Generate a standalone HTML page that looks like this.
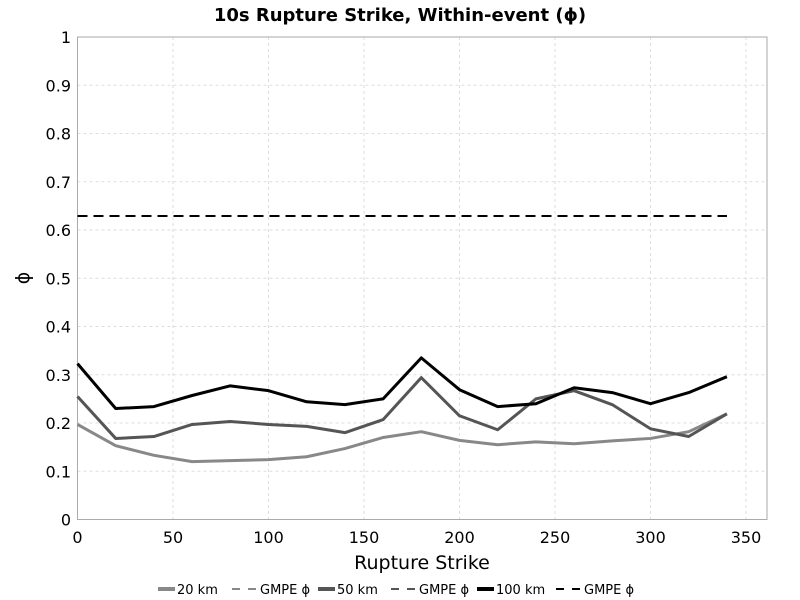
<!DOCTYPE html>
<html><head><meta charset="utf-8"><style>
body{margin:0;background:#fff;}
svg{display:block;font-family:"DejaVu Sans","Liberation Sans",sans-serif;}
</style></head><body>
<svg id="chart" width="800" height="600">
<text x="400" y="21" text-anchor="middle" font-size="18" font-weight="bold">10s Rupture Strike, Within-event (ϕ)</text>
<g id="grid"></g>
<rect x="77.5" y="37" width="689.5" height="482.5" fill="none" stroke="#aaa"/>
<g id="ticks"></g>
<g id="series"></g>
<text x="422" y="569" text-anchor="middle" font-size="19">Rupture Strike</text>
<text x="29" y="278" text-anchor="middle" font-size="19" transform="rotate(-90 29 278)">ϕ</text>
<g id="legend" font-size="13"></g>
</svg>
<script>
const xVals=[0,20,40,60,80,100,120,140,160,180,200,220,240,260,280,300,320,340];
const s20=[0.197,0.153,0.133,0.12,0.122,0.124,0.13,0.147,0.17,0.182,0.164,0.155,0.161,0.157,0.163,0.168,0.182,0.219];
const s50=[0.255,0.168,0.172,0.197,0.203,0.197,0.193,0.18,0.207,0.294,0.215,0.186,0.25,0.267,0.238,0.188,0.172,0.219];
const s100=[0.323,0.23,0.234,0.257,0.277,0.267,0.244,0.238,0.25,0.335,0.269,0.234,0.24,0.273,0.263,0.24,0.263,0.296];
const gmpe=[0.629,0.629,0.629];
const xTicks=[0,50,100,150,200,250,300,350];
const yTicks=[0,0.1,0.2,0.3,0.4,0.5,0.6,0.7,0.8,0.9,1];
const yTickLabels=["0","0.1","0.2","0.3","0.4","0.5","0.6","0.7","0.8","0.9","1"];
const NS="http://www.w3.org/2000/svg";
const X=v=>77.5+v*1.91, Y=v=>519.5-v*482.5;
function mk(t,a,p){const e=document.createElementNS(NS,t);for(const k in a)e.setAttribute(k,a[k]);p.appendChild(e);return e;}
const grid=document.getElementById('grid'),ticks=document.getElementById('ticks'),ser=document.getElementById('series'),leg=document.getElementById('legend');
xTicks.forEach(v=>{
 const l=mk('line',{x1:X(v),x2:X(v),y1:37,y2:519.5,stroke:'#ddd','stroke-dasharray':'3,3'},grid);
 
 
 const t=mk('text',{x:X(v),y:543,'text-anchor':'middle','font-size':16},ticks);t.textContent=v;
 
 
});
yTicks.forEach((v,i)=>{
 const l=mk('line',{x1:77.5,x2:767,y1:Y(v),y2:Y(v),stroke:'#ddd','stroke-dasharray':'3,3'},grid);
 
 
 const t=mk('text',{x:71,y:Y(v)+6,'text-anchor':'end','font-size':16},ticks);t.textContent=yTickLabels[i];
 
 
});
function line(vals,color,name){
 const p=mk('polyline',{points:vals.map((v,i)=>X(xVals[i])+','+Y(v)).join(' '),fill:'none',stroke:color,'stroke-width':3,'stroke-linejoin':'round'},ser);
 
 
}
function gline(color,name){
 const p=mk('line',{x1:X(0),x2:X(340),y1:Y(gmpe[0]),y2:Y(gmpe[0]),stroke:color,'stroke-width':2,'stroke-dasharray':'10,6'},ser);
 
 
}
gline('#888','gmpe-20km-line');gline('#555','gmpe-50km-line');gline('#000','gmpe-100km-line');
line(s20,'#888','series-20km');line(s50,'#555','series-50km');line(s100,'#000','series-100km');
const items=[['20 km','#888',false],['GMPE ϕ','#888',true],['50 km','#555',false],['GMPE ϕ','#555',true],['100 km','#000',false],['GMPE ϕ','#000',true]];
const lx=[158,232,318,391,477,556];
items.forEach((it,i)=>{
 const g=mk('g',{},leg);
 
 
 mk('line',{x1:lx[i],x2:lx[i]+(it[2]?24:17),y1:589,y2:589,stroke:it[1],'stroke-width':it[2]?2:4,'stroke-dasharray':it[2]?'8,8':'none'},g);
 const t=mk('text',{x:lx[i]+(it[2]?28:19),y:594},g);t.textContent=it[0];
});
</script>
</body></html>
